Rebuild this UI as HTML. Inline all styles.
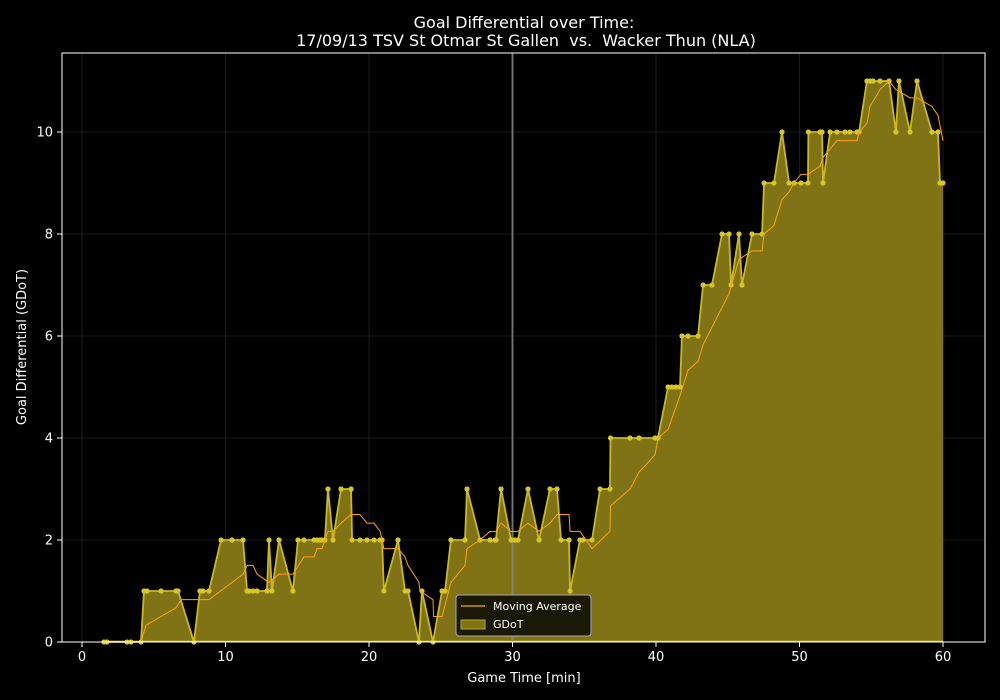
<!DOCTYPE html>
<html><head><meta charset="utf-8"><style>
body{margin:0;background:#000;}
svg{display:block;font-family:"DejaVu Sans","Liberation Sans",sans-serif;}
</style></head><body>
<svg id="chart" width="1000" height="700">
<rect width="1000" height="700" fill="#000"/>
<g id="grid"></g><g id="marks"></g><g id="axes"></g>
<text x="524" y="28" fill="#fff" font-size="16" text-anchor="middle">Goal Differential over Time:</text>
<text x="526" y="46" fill="#fff" font-size="16" text-anchor="middle" style="white-space:pre" xml:space="preserve">17/09/13 TSV St Otmar St Gallen  vs.  Wacker Thun (NLA)</text>
<text x="524" y="682" fill="#fff" font-size="13" text-anchor="middle">Game Time [min]</text>
<text x="26" y="347" fill="#fff" font-size="13" text-anchor="middle" transform="rotate(-90 26 347)">Goal Differential (GDoT)</text>
<g>
<rect x="456" y="595" width="135" height="41" rx="3" fill="#1a1806" stroke="#aaa" stroke-width="1"/>
<line x1="461" y1="606" x2="485" y2="606" stroke="#ffa500" stroke-width="1.2"/>
<text x="493" y="610" fill="#fff" font-size="11">Moving Average</text>
<rect x="461" y="620" width="24" height="9" fill="#807315" stroke="#b8a820"/>
<text x="493" y="628" fill="#fff" font-size="11">GDoT</text>
</g>
</svg>
<script>
const times=[1.53,1.74,3.14,3.41,4.11,4.32,4.53,5.51,6.55,6.69,7.80,8.22,8.43,8.85,9.69,10.45,11.22,11.50,11.64,11.92,12.20,12.89,13.03,13.24,13.73,14.70,15.05,15.47,16.17,16.38,16.59,16.72,16.93,17.14,17.49,18.05,18.75,18.82,19.37,19.86,20.35,20.77,20.91,21.04,22.02,22.51,22.72,23.48,23.69,24.46,25.09,25.30,25.71,26.69,26.83,27.74,28.43,28.78,28.85,29.20,29.90,30.17,30.38,31.08,31.85,32.61,33.10,33.38,33.94,34.01,34.70,34.91,35.54,36.10,36.79,36.83,38.19,38.82,39.93,40.14,40.84,41.11,41.39,41.67,41.81,42.23,42.93,43.28,43.90,44.60,45.09,45.23,45.78,45.99,46.69,47.39,47.53,48.22,48.78,49.27,49.62,50.10,50.59,50.62,51.43,51.57,51.64,52.13,52.61,53.17,53.52,54.01,54.15,54.70,54.91,55.12,55.61,56.24,56.72,56.93,57.70,58.19,59.23,59.65,59.79,60.0];
const gdot=[0,0,0,0,0,1,1,1,1,1,0,1,1,1,2,2,2,1,1,1,1,1,2,1,2,1,2,2,2,2,2,2,2,3,2,3,3,2,2,2,2,2,2,1,2,1,1,0,1,0,1,1,2,2,3,2,2,2,2,3,2,2,2,3,2,3,3,2,2,1,2,2,2,3,3,4,4,4,4,4,5,5,5,5,6,6,6,7,7,8,8,7,8,7,8,8,9,9,10,9,9,9,9,10,10,10,9,10,10,10,10,10,10,11,11,11,11,11,10,11,10,11,10,10,9,9];
const maTimes=[4.11,4.46,6.55,6.90,8.85,11.22,11.50,11.92,12.20,13.03,13.73,14.70,15.47,16.17,16.38,16.72,17.14,17.49,18.05,18.75,19.37,19.86,20.35,20.77,20.91,21.04,22.02,22.51,22.72,23.48,23.55,24.46,24.50,25.09,25.71,26.69,26.83,27.74,28.43,28.85,29.20,29.90,30.38,31.08,31.85,32.61,33.10,33.94,34.01,34.70,35.54,36.79,36.83,38.19,38.82,39.93,40.14,40.84,41.67,42.23,42.93,43.28,43.90,45.09,45.78,46.69,47.39,47.53,48.22,48.78,49.27,49.62,50.10,50.59,51.43,51.64,52.13,52.61,54.01,54.15,54.70,54.91,55.61,56.24,56.72,57.70,58.19,59.23,59.65,60.0];
const maValues=[0,0.33,0.67,0.83,0.83,1.33,1.5,1.5,1.33,1.17,1.33,1.33,1.67,1.67,1.83,1.83,2.17,2.17,2.33,2.5,2.5,2.33,2.33,2.17,2.0,1.83,1.83,1.67,1.5,1.17,1.0,0.83,0.5,0.5,1.17,1.5,1.83,2.0,2.17,2.17,2.33,2.17,2.17,2.33,2.17,2.33,2.5,2.5,2.17,2.17,1.83,2.17,2.67,3.0,3.33,3.67,4.0,4.17,4.83,5.33,5.5,5.83,6.17,6.83,7.5,7.67,7.67,8.0,8.17,8.67,8.83,9.0,9.17,9.17,9.33,9.5,9.67,9.83,9.83,10.0,10.17,10.5,10.83,11.0,10.83,10.67,10.67,10.5,10.33,9.83];
const xTicks=[0,10,20,30,40,50,60];
const yTicks=[0,2,4,6,8,10];
const NS='http://www.w3.org/2000/svg';
const L=62,R=985,T=53,B=642;
const xs=t=>82+t*(943-82)/60;
const ys=v=>642-v*51;
function mk(tag,attrs,parent){const e=document.createElementNS(NS,tag);for(const k in attrs)e.setAttribute(k,attrs[k]);parent.appendChild(e);return e;}
const grid=document.getElementById('grid'),marks=document.getElementById('marks'),axes=document.getElementById('axes');
xTicks.forEach(t=>{
 const g=mk('line',{x1:xs(t),x2:xs(t),y1:T,y2:B,stroke:'#222','stroke-width':0.8},grid);
 
 
 const tk=mk('line',{x1:xs(t),x2:xs(t),y1:B,y2:B+5,stroke:'#fff'},axes);
 
 
 const lb=mk('text',{x:xs(t),y:B+19,fill:'#fff','font-size':13,'text-anchor':'middle'},axes);
 lb.textContent=t;
 
 
});
yTicks.forEach(v=>{
 const g=mk('line',{x1:L,x2:R,y1:ys(v),y2:ys(v),stroke:'#222','stroke-width':0.8},grid);
 
 
 const tk=mk('line',{x1:L-5,x2:L,y1:ys(v),y2:ys(v),stroke:'#fff'},axes);
 
 
 const lb=mk('text',{x:L-9,y:ys(v)+4.5,fill:'#fff','font-size':13,'text-anchor':'end'},axes);
 lb.textContent=v;
 
 
});
let pts=times.map((t,i)=>xs(t)+','+ys(gdot[i]));
const area=mk('polygon',{points:xs(times[0])+','+ys(0)+' '+pts.join(' ')+' '+xs(times[times.length-1])+','+ys(0),fill:'#807315',stroke:'none'},marks);


const gl=mk('polyline',{points:pts.join(' '),fill:'none',stroke:'#c9b820','stroke-width':1.8,'stroke-linejoin':'round'},marks);


const base=mk('line',{x1:xs(times[0]),x2:xs(60),y1:ys(0)-0.5,y2:ys(0)-0.5,stroke:'#e8d82a','stroke-width':1.5},marks);


const vl=mk('line',{x1:xs(30),x2:xs(30),y1:T,y2:B,stroke:'#888','stroke-width':2,'stroke-opacity':0.8},marks);


times.forEach((t,i)=>{
 const c=mk('circle',{cx:xs(t),cy:ys(gdot[i]),r:2.6,fill:'#d8c622'},marks);
 
 
});
const ma=mk('polyline',{points:maTimes.map((t,i)=>xs(t)+','+ys(maValues[i])).join(' '),fill:'none',stroke:'#ffa500','stroke-width':1},marks);


const fr=mk('rect',{x:L,y:T,width:R-L,height:B-T,fill:'none',stroke:'#fff','stroke-width':1},axes);


</script>
</body></html>
